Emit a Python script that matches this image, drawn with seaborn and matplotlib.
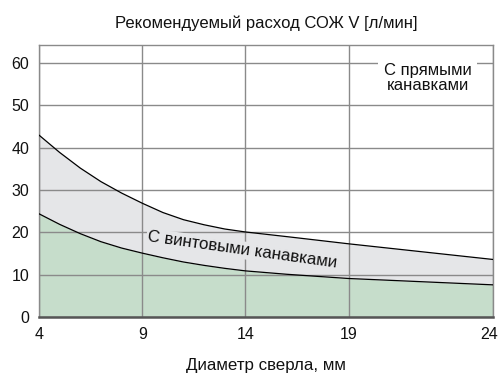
import numpy as np
import pandas as pd
import matplotlib
matplotlib.use("Agg")
import matplotlib.pyplot as plt
import matplotlib.transforms as mtransforms
import seaborn as sns

# drill diameter, mm
diam = [4, 5, 6, 7, 8, 9, 10, 11, 12, 13, 14, 16, 19, 24]
# straight flutes (upper curve), l/min
flow_straight = [43.0, 38.9, 35.2, 32.0, 29.3, 26.9, 24.7, 23.0, 21.8, 20.8, 20.1, 19.0, 17.3, 13.6]
# helical flutes (lower curve), l/min
flow_helical = [24.4, 21.9, 19.7, 17.8, 16.3, 15.1, 14.0, 13.0, 12.2, 11.5, 10.9, 10.1, 9.1, 7.6]

x_ticks = [4, 9, 14, 19, 24]
y_ticks = [0, 10, 20, 30, 40, 50, 60]

df = pd.DataFrame({"d": diam, "straight": flow_straight, "helical": flow_helical})

sns.set_style("white")
plt.rcParams["font.family"] = ["Liberation Sans", "DejaVu Sans"]

# the original stretches the last interval (19-24) wider than the others
scale_src = [4, 19, 24]
scale_dst = [0, 15, 15 + 5 * 144 / 103]
def fwd(x):
    return np.interp(x, scale_src, scale_dst)
def inv(x):
    return np.interp(x, scale_dst, scale_src)

fig = plt.figure(figsize=(4.99, 3.76), dpi=100)
ax = fig.add_axes([39 / 499, 1 - 317 / 376, 454 / 499, 272 / 376])

green = "#c6ddcb"
grey = "#e5e6e8"
ax.fill_between(df["d"], 0, df["helical"], color=green, lw=0, zorder=0.2)
ax.fill_between(df["d"], df["helical"], df["straight"], color=grey, lw=0, zorder=0.2)

sns.lineplot(data=df, x="d", y="straight", color="black", lw=0.9, ax=ax, zorder=3)
sns.lineplot(data=df, x="d", y="helical", color="black", lw=0.9, ax=ax, zorder=3)

ax.set_xscale("function", functions=(fwd, inv))
ax.set_xlim(4, 24)
ax.set_ylim(0, 64.3)
ax.set_xticks(x_ticks)
ax.set_xticklabels([str(t) for t in x_ticks])
ax.set_yticks(y_ticks)
ax.minorticks_off()

ax.set_axisbelow(True)
ax.grid(True, color="#8a8a8a", lw=1)
for s in ["left", "right", "top"]:
    ax.spines[s].set_color("#8a8a8a")
    ax.spines[s].set_linewidth(1)
ax.spines["bottom"].set_color("#555555")
ax.spines["bottom"].set_linewidth(1.8)
ax.tick_params(axis="both", direction="out", length=5, width=1, color="#8a8a8a",
               labelsize=11.5, labelcolor="#111111", pad=2)

# keep the last x label inside the figure
last = ax.get_xticklabels()[-1]
last.set_transform(last.get_transform() + mtransforms.ScaledTranslation(-4 / 100, 0, fig.dpi_scale_trans))

ax.set_xlabel("Диаметр сверла, мм", fontsize=12.2, labelpad=12, color="#111111")
ax.set_ylabel("")
ax.set_title("Рекомендуемый расход СОЖ V [л/мин]", fontsize=12, pad=12, color="#111111")

ax.text(21.74, 56.5, "С прямыми\nканавками", ha="center", va="center", fontsize=12,
        linespacing=0.95, color="#111111", zorder=1,
        bbox=dict(facecolor="white", edgecolor="none", pad=4))
ax.text(13.85, 15.8, "С винтовыми канавками", ha="center", va="center", fontsize=12.2,
        rotation=-8, rotation_mode="anchor", color="#111111", zorder=1,
        bbox=dict(facecolor=grey, edgecolor="none", pad=1))

fig.savefig("out.png", dpi=100)
